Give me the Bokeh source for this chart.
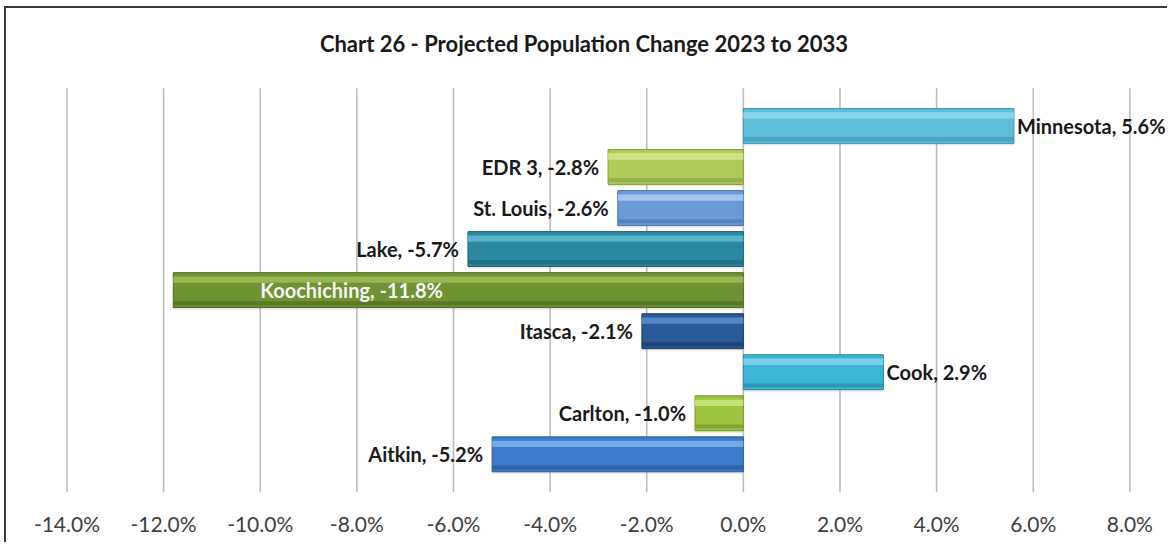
from bokeh.plotting import figure
from bokeh.models import ColumnDataSource, FixedTicker, PrintfTickFormatter, Range1d, LabelSet, Label
from bokeh.core.properties import value
from bokeh.embed import file_html
from bokeh.resources import INLINE

# ---- data (bottom to top) ----
names = ["Aitkin", "Carlton", "Cook", "Itasca", "Koochiching", "Lake", "St. Louis", "EDR 3", "Minnesota"]
changes = [-5.2, -1.0, 2.9, -2.1, -11.8, -5.7, -2.6, -2.8, 5.6]
x_ticks = [-14, -12, -10, -8, -6, -4, -2, 0, 2, 4, 6, 8]
title_text = "Chart 26 - Projected Population Change 2023 to 2033"

# ---- styles ----
main_colors = ["#3B7CCB", "#9CC43E", "#3DB5D6", "#2A5A9A", "#6F9232", "#2A88A0", "#6C9AD8", "#B0CB5C", "#5CBDD9"]
top_colors = ["#7DB2EC", "#CDE57E", "#86D6EC", "#5B8FCF", "#9DBD5C", "#5CBAD2", "#ABCDF3", "#D6E68F", "#92DAEC"]
bot_colors = ["#2E63A6", "#7FA331", "#2C93B0", "#1E416F", "#587526", "#1F6E82", "#5380C0", "#90AC45", "#48A2BE"]
edge_colors = ["#2A5A96", "#74962C", "#2A86A2", "#183860", "#4E6A20", "#1B6173", "#4A74AE", "#84A03C", "#3E93AC"]

ys = list(range(len(names)))
labels = [f"{n}, {v:.1f}%" for n, v in zip(names, changes)]
inside = [n == "Koochiching" for n in names]
aligns = ["left" if (v > 0 or ins) else "right" for v, ins in zip(changes, inside)]
offsets = [87 if ins else (3 if v > 0 else -9) for v, ins in zip(changes, inside)]
text_colors = ["#F4F4F4" if ins else "#1A1A1A" for ins in inside]

H = 0.85
Y0, GRID_TOP, Y1 = -0.93, 8.92, 10.86   # plot area bottom, top of gridlines, top of chart (title band)
X0, X1 = -14.03, 8.82

src = ColumnDataSource(dict(
    y=ys, v=changes, zero=[0] * len(ys),
    main=main_colors, top=top_colors, bot=bot_colors, edge=edge_colors,
    label=labels, align=aligns, off=offsets, tcol=text_colors,
    y_top=[y + H * 0.30 for y in ys],
    y_bot=[y - H * 0.38 for y in ys],
    y_sh=[y - 0.05 for y in ys],
))
grid_src = ColumnDataSource(dict(x=x_ticks, y0=[Y0] * len(x_ticks), y1=[GRID_TOP] * len(x_ticks)))

p = figure(width=1163, height=536, output_backend="svg", toolbar_location=None,
           x_range=Range1d(X0, X1), y_range=Range1d(Y0, Y1),
           min_border_left=59, min_border_right=0, min_border_top=0, min_border_bottom=52)
p.styles = {"margin-left": "4px", "margin-top": "6px",
            "border-left": "2px solid #3A3A3A", "border-top": "2px solid #3A3A3A"}
p.title_location = None

p.outline_line_color = None
p.background_fill_color = "white"
p.border_fill_color = "white"

p.yaxis.visible = False
p.ygrid.visible = False
p.xgrid.visible = False

# vertical gridlines at the tick values
p.segment(x0="x", y0="y0", x1="x", y1="y1", source=grid_src, line_color="#BDBDBD", line_width=1.6)

ax = p.xaxis[0]
ax.ticker = FixedTicker(ticks=x_ticks)
ax.formatter = PrintfTickFormatter(format="%.1f%%")
ax.axis_line_color = None
ax.major_tick_line_color = None
ax.minor_tick_line_color = None
ax.major_label_text_font = "Lato"
ax.major_label_text_font_size = "21px"
ax.major_label_text_color = "#404040"
ax.major_label_standoff = 12

# shadow
p.hbar(y="y_sh", left="zero", right="v", height=H, source=src,
       fill_color="#9A9A9A", fill_alpha=0.25, line_color=None)
# base bar
p.hbar(y="y", left="zero", right="v", height=H, source=src,
       fill_color="main", line_color="edge", line_width=1)
# highlight band
p.hbar(y="y_top", left="zero", right="v", height=H * 0.18, source=src,
       fill_color="top", fill_alpha=0.85, line_color=None)
# darker bottom band
p.hbar(y="y_bot", left="zero", right="v", height=H * 0.12, source=src,
       fill_color="bot", fill_alpha=0.9, line_color=None)

lbl = LabelSet(x="v", y="y", text="label", source=src, text_align="align", text_baseline="middle",
               x_offset="off", text_color="tcol", text_font=value("Lato"), text_font_size=value("20px"),
               text_font_style=value("bold"))
p.add_layout(lbl)

# chart title
p.add_layout(Label(x=-3.3, y=10.0, text=title_text, text_align="center", text_baseline="middle",
                   text_font="Lato", text_font_size="22px", text_font_style="bold",
                   text_color="#1A1A1A"))

open("out.html", "w").write(file_html(p, INLINE))
